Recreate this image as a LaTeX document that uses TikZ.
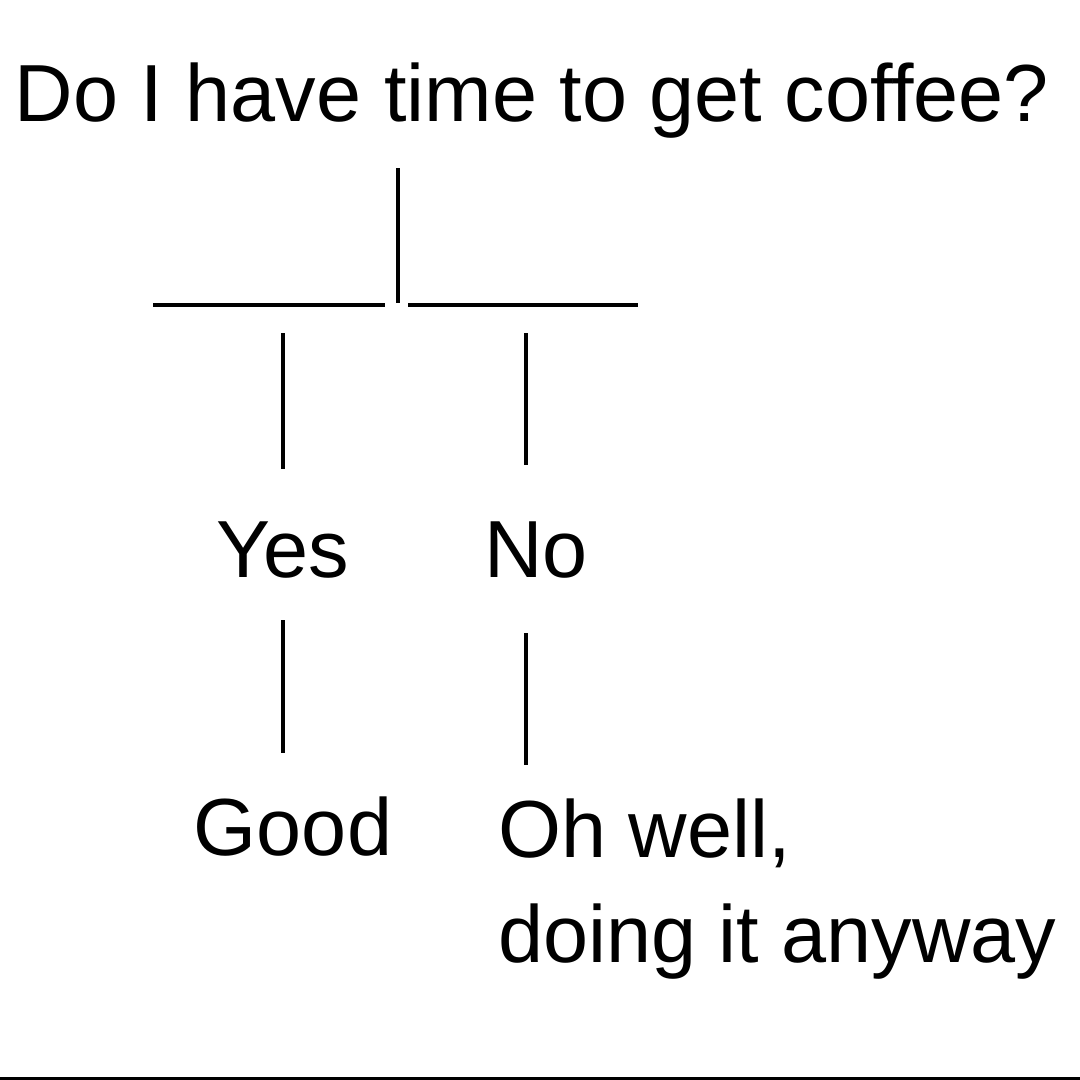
\documentclass[tikz,border=0pt]{standalone}
\usepackage{fontspec}
\setmainfont{Liberation Sans}
\tikzstyle{answer} = [inner sep=0pt, anchor=base, font=\fontsize{81pt}{105pt}\selectfont]
\tikzstyle{stem}   = [line width=3.5pt]

\begin{document}
\begin{tikzpicture}[x=1pt, y=-1pt]

    \useasboundingbox (0,0) rectangle (1080,1080);
    \fill[white] (0,0) rectangle (1080,1080);

    \node (question) [answer]                                 at (532,121) {Do I have time to get coffee?};
    \node (yes)      [answer]                                 at (283,577) {Yes};
    \node (no)       [answer]                                 at (536,577) {No};
    \node (good)     [answer]                                 at (293,855) {Good};
    \node (ohwell)   [answer, anchor=base west, align=left]   at (498,962) {Oh well,\\doing it anyway};

    \coordinate (fork)     at (398,305);
    \coordinate (leftend)  at (153,305);
    \coordinate (rightend) at (638,305);
    \coordinate (nostem)   at (526,577);

    \draw [stem, shorten <=30pt, shorten >=2pt]  (question.south -| fork) -- (fork);
    \draw [stem, shorten >=13pt]                 (leftend) -- (fork);
    \draw [stem, shorten <=10pt]                 (fork) -- (rightend);
    \draw [stem, shorten <=28pt, shorten >=52pt] (yes.north |- fork) -- (yes.north);
    \draw [stem, shorten <=28pt, shorten >=56pt] (nostem |- fork) -- (nostem |- no.north);
    \draw [stem, shorten <=42pt, shorten >=43pt] (yes.south) -- (yes.south |- good.north);
    \draw [stem, shorten <=55pt, shorten >=33pt] (nostem |- no.south) -- (nostem |- ohwell.north);

    % bottom edge
    \fill (0,1077) rectangle (1080,1080);

\end{tikzpicture}
\end{document}
